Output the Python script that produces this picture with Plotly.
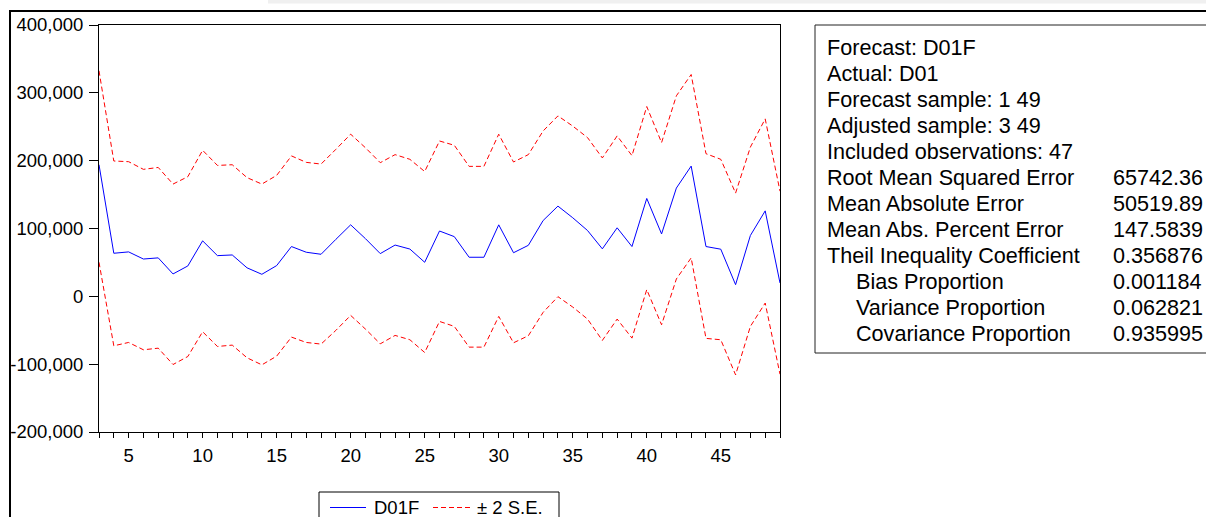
import plotly.graph_objects as go

# ---------------- data ----------------
obs = [3, 4, 5, 6, 7, 8, 9, 10, 11, 12, 13, 14, 15, 16, 17, 18, 19, 20, 21, 22, 23, 24, 25,
       26, 27, 28, 29, 30, 31, 32, 33, 34, 35, 36, 37, 38, 39, 40, 41, 42, 43, 44, 45, 46, 47, 48, 49]

d01f = [194000, 63500, 65500, 55000, 56700, 33000, 44800, 81800, 60000, 61000, 42000, 32500,
        45300, 73400, 65000, 62000, 84000, 105400, 85000, 63000, 75600, 69700, 50200, 96300,
        88000, 57600, 57600, 105400, 64300, 75200, 111800, 133000, 115800, 97000, 70000, 101000,
        73400, 144300, 92000, 159600, 192000, 73400, 69500, 17200, 89700, 126000, 19700]

upper = [332500, 199500, 198500, 187200, 190000, 165500, 176400, 215300, 193000, 194000, 175000,
         165500, 178300, 207000, 197500, 195000, 216700, 239000, 219000, 197000, 208900, 202000,
         184000, 229000, 222700, 191600, 191600, 239000, 198000, 208900, 243800, 266000, 251000,
         234000, 204000, 236500, 207400, 279800, 226600, 295600, 327000, 210300, 202000, 152200,
         220000, 261600, 155000]

lower = [50200, -72900, -68000, -78800, -76400, -100500, -88700, -52200, -73900, -71900, -90600,
         -101000, -88200, -60100, -68000, -70400, -50200, -28100, -48300, -70000, -57600, -64000,
         -82800, -37000, -44300, -74900, -74900, -29600, -68500, -58100, -23600, -500, -15800,
         -33500, -65000, -33500, -61600, 9900, -41900, 25600, 56700, -62000, -64000, -115800,
         -44300, -9900, -114800]

y_tickvals = [-200000, -100000, 0, 100000, 200000, 300000, 400000]
y_ticktext = ["-200,000", "-100,000", "0", "100,000", "200,000", "300,000", "400,000"]
x_tickvals = [5, 10, 15, 20, 25, 30, 35, 40, 45]

series_names = ["D01F", "\u00b1 2 S.E."]

stat_labels = ["Forecast: D01F", "Actual: D01", "Forecast sample: 1 49", "Adjusted sample: 3 49",
               "Included observations: 47", "Root Mean Squared Error", "Mean Absolute Error",
               "Mean Abs. Percent Error", "Theil Inequality Coefficient", "Bias Proportion",
               "Variance Proportion", "Covariance Proportion"]
stat_values = ["", "", "", "", "", "65742.36", "50519.89", "147.5839", "0.356876",
               "0.001184", "0.062821", "0.935995"]
stat_indent = [False, False, False, False, False, False, False, False, False, True, True, True]

# ---------------- layout helpers (paper == whole figure) ----------------
WIDTH, HEIGHT = 1206, 517
PLOT_X0, PLOT_X1, PLOT_Y0, PLOT_Y1 = 99, 780, 25, 432   # pixel box of the plot area


def px_x(p):
    return p / WIDTH


def px_y(p):
    return 1 - p / HEIGHT


FONT = "Arial, Liberation Sans, sans-serif"
BLUE = "#0000ff"
RED = "#ff0000"
DASH = "5px,3px"

fig = go.Figure()
fig.add_trace(go.Scatter(x=obs, y=d01f, mode="lines", name=series_names[0],
                         line=dict(color=BLUE, width=1)))
fig.add_trace(go.Scatter(x=obs, y=upper, mode="lines", name=series_names[1],
                         line=dict(color=RED, width=1, dash=DASH)))
fig.add_trace(go.Scatter(x=obs, y=lower, mode="lines", name=series_names[1],
                         line=dict(color=RED, width=1, dash=DASH)))

# legend key samples, drawn on a small pixel-unit overlay axis under the chart
fig.add_trace(go.Scatter(x=[330, 366], y=[507.5, 507.5], mode="lines", xaxis="x2", yaxis="y2",
                         line=dict(color=BLUE, width=1), hoverinfo="skip"))
fig.add_trace(go.Scatter(x=[433, 471], y=[507.5, 507.5], mode="lines", xaxis="x2", yaxis="y2",
                         line=dict(color=RED, width=1, dash=DASH), hoverinfo="skip"))

shapes = [
    dict(type="rect", xref="paper", yref="paper", x0=px_x(268), x1=px_x(1220),
         y0=px_y(3.5), y1=px_y(-5), fillcolor="#f0f0f0", line=dict(width=0), layer="below"),
    dict(type="rect", xref="paper", yref="paper", x0=px_x(10), x1=px_x(1230),
         y0=px_y(540), y1=px_y(11), line=dict(color="black", width=2)),
    dict(type="rect", xref="paper", yref="paper", x0=px_x(815), x1=px_x(1230),
         y0=px_y(353), y1=px_y(25), line=dict(color="#222222", width=1)),
    dict(type="rect", xref="paper", yref="paper", x0=px_x(319), x1=px_x(559),
         y0=px_y(540), y1=px_y(492), line=dict(color="black", width=1), layer="below"),
]

annotations = []
for i, (lab, val, ind) in enumerate(zip(stat_labels, stat_values, stat_indent)):
    yc = 47 + i * 26.05
    annotations.append(dict(text=lab, xref="paper", yref="paper",
                            x=px_x(854 if ind else 825), y=px_y(yc),
                            xanchor="left", yanchor="middle", showarrow=False,
                            font=dict(family=FONT, size=21.6, color="black")))
    if val:
        annotations.append(dict(text=val, xref="paper", yref="paper",
                                x=px_x(1111), y=px_y(yc),
                                xanchor="left", yanchor="middle", showarrow=False,
                                font=dict(family=FONT, size=21.6, color="black")))

for name, xl in zip(series_names, [372, 475]):
    annotations.append(dict(text=name, xref="paper", yref="paper",
                            x=px_x(xl), y=px_y(507.5), xanchor="left", yanchor="middle",
                            showarrow=False, font=dict(family=FONT, size=18.5, color="black")))

fig.update_layout(
    width=WIDTH, height=HEIGHT,
    margin=dict(l=0, r=0, t=0, b=0, pad=0, autoexpand=False),
    paper_bgcolor="white", plot_bgcolor="white",
    font=dict(family=FONT, size=18.5, color="black"),
    shapes=shapes,
    annotations=annotations,
    showlegend=False,
    xaxis=dict(domain=[px_x(PLOT_X0), px_x(PLOT_X1)], range=[3, 49],
               showgrid=False, zeroline=False,
               showline=True, linecolor="black", linewidth=1, mirror=True,
               tickmode="array", tickvals=x_tickvals, ticks="outside", ticklen=5,
               tickcolor="black", tickwidth=1, ticklabelstandoff=2,
               minor=dict(tick0=3, dtick=1, ticks="outside", ticklen=5,
                          tickcolor="black", tickwidth=1, showgrid=False),
               tickfont=dict(family=FONT, size=18.5, color="black")),
    yaxis=dict(domain=[px_y(PLOT_Y1), px_y(PLOT_Y0)], range=[-200000, 400000],
               showgrid=False, zeroline=False,
               showline=True, linecolor="black", linewidth=1, mirror=True,
               tickmode="array", tickvals=y_tickvals, ticktext=y_ticktext,
               ticks="outside", ticklen=9, tickcolor="black", tickwidth=1,
               ticklabelstandoff=2,
               tickfont=dict(family=FONT, size=18.5, color="black")),
    xaxis2=dict(domain=[px_x(319), px_x(559)], range=[319, 559], anchor="y2",
                visible=False, fixedrange=True),
    yaxis2=dict(domain=[0, px_y(492)], range=[517, 492], anchor="x2",
                visible=False, fixedrange=True),
)

fig.write_html("out.html")
